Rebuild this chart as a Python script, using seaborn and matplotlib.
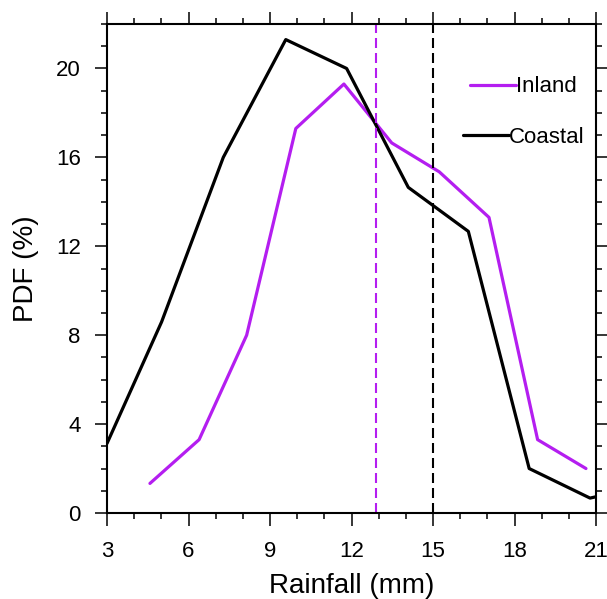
import matplotlib
matplotlib.use("Agg")
import matplotlib.pyplot as plt
from matplotlib.ticker import MultipleLocator
from matplotlib.lines import Line2D
import numpy as np
import pandas as pd
import seaborn as sns

# --- data ---
inland_x = [4.58, 6.39, 8.14, 9.95, 11.72, 13.48, 15.23, 17.06, 18.85, 20.63]
inland_pdf = [1.33, 3.3, 8.0, 17.3, 19.3, 16.65, 15.35, 13.3, 3.3, 2.0]

coastal_x = [3.0, 5.01, 7.28, 9.58, 11.82, 14.09, 16.30, 18.54, 20.78, 21.0]
coastal_pdf = [3.13, 8.6, 16.0, 21.3, 20.0, 14.65, 12.67, 2.0, 0.67, 0.73]

inland_mean = 12.9
coastal_mean = 15.0

purple = "#b41ef0"

df = pd.concat([
    pd.DataFrame({'rain': inland_x, 'pdf': inland_pdf, 'region': 'Inland'}),
    pd.DataFrame({'rain': coastal_x, 'pdf': coastal_pdf, 'region': 'Coastal'}),
])

sns.set_style("white")
plt.rcParams['font.family'] = ['Liberation Sans', 'DejaVu Sans']
plt.rcParams['text.color'] = 'black'
plt.rcParams['axes.labelcolor'] = 'black'
plt.rcParams['xtick.color'] = 'black'
plt.rcParams['ytick.color'] = 'black'

fig = plt.figure(figsize=(6.07, 5.99), dpi=100)
ax = fig.add_axes([0.1763, 0.1436, 0.8056, 0.8163])

sns.lineplot(data=df, x='rain', y='pdf', hue='region', hue_order=['Inland', 'Coastal'],
             palette={'Inland': purple, 'Coastal': 'black'}, sort=False,
             estimator=None, lw=2.3, ax=ax, legend=False)

# mean lines
ax.axvline(inland_mean, color=purple, lw=1.5, ls=(0, (4.8, 2.4)))
ax.axvline(coastal_mean, color='black', lw=1.5, ls=(0, (4.8, 2.4)))

ax.set_xlim(3, 21)
ax.set_ylim(0, 22)
ax.xaxis.set_major_locator(MultipleLocator(3))
ax.xaxis.set_minor_locator(MultipleLocator(1))
ax.yaxis.set_major_locator(MultipleLocator(4))
ax.yaxis.set_minor_locator(MultipleLocator(1))

ax.tick_params(which='both', direction='out', bottom=True, left=True, top=True, right=True,
               labeltop=False, labelright=False, width=1.1, color='black')
ax.tick_params(which='major', length=9, labelsize=16, labelcolor='black')
ax.tick_params(axis='x', which='major', pad=11)
ax.tick_params(axis='y', which='major', pad=10)
ax.tick_params(which='minor', length=4.5)
for s in ax.spines.values():
    s.set_linewidth(1.5)
    s.set_color('black')

ax.set_xlabel('Rainfall (mm)', fontsize=20, labelpad=8, color='black')
ax.set_ylabel('PDF (%)', fontsize=20, labelpad=12, color='black')

# legend: two separate entries, as in the reference
leg_kw = dict(loc='upper left', frameon=False, fontsize=16, handlelength=2.05,
              handletextpad=0.0, borderpad=0, borderaxespad=0)
leg1 = ax.legend([Line2D([], [], color=purple, lw=2.3)], ['Inland'],
                 bbox_to_anchor=(0.743, 0.893), **leg_kw)
ax.add_artist(leg1)
ax.legend([Line2D([], [], color='black', lw=2.3)], ['Coastal'],
          bbox_to_anchor=(0.728, 0.79), **leg_kw)

fig.savefig('out.png', dpi=100)
